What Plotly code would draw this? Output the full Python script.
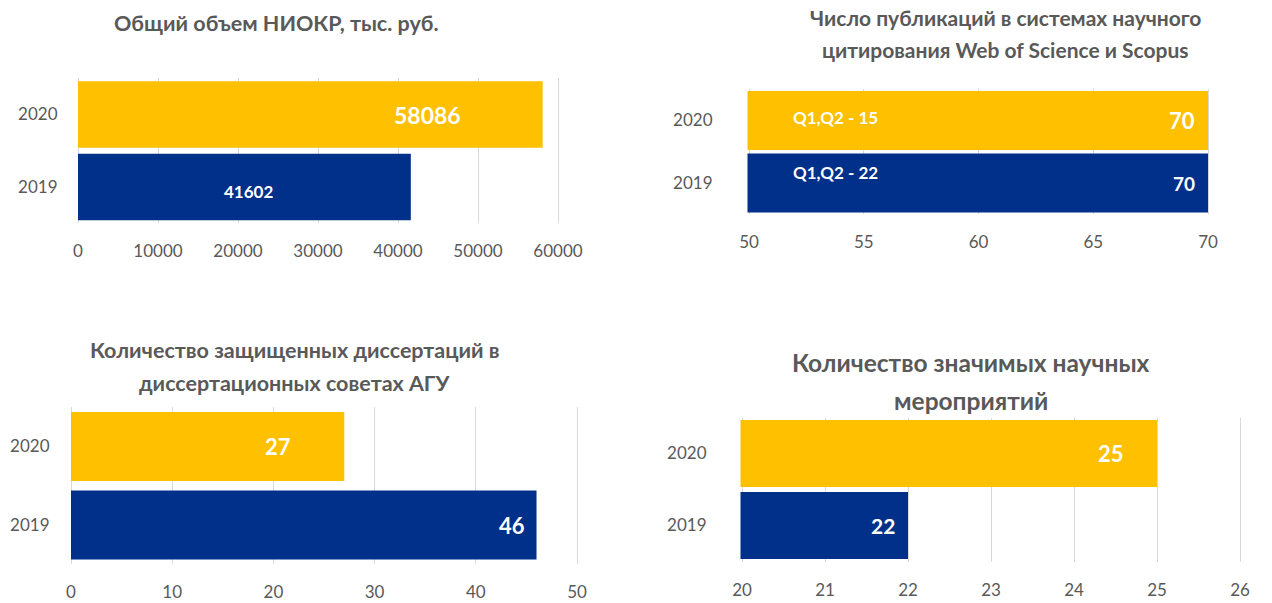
import plotly.graph_objects as go

# ---------------- data ----------------
years = ["2020", "2019"]
cat_order = ["2019", "2020"]
niokr = [58086, 41602]
pubs = [70, 70]
pubs_q = ["Q1,Q2 - 15", "Q1,Q2 - 22"]
diss = [27, 46]
events = [25, 22]

titles = [
    ["Общий объем НИОКР, тыс. руб."],
    ["Число публикаций в системах научного", "цитирования Web of Science и Scopus"],
    ["Количество защищенных диссертаций в", "диссертационных советах АГУ"],
    ["Количество значимых научных", "мероприятий"],
]

# ---------------- style ----------------
W, H = 1272, 603
OFF = 8  # page body margin offset
YELLOW = "#FFC000"
NAVY = "#00308A"
GRAY = "#595959"
GRID = "#D9D9D9"
FONT = "Lato"
bar_colors = [YELLOW, NAVY]


def fx(px):
    return (px - OFF) / W


def fy(py):
    return 1 - (py - OFF) / H


def cat_idx(year):
    return cat_order.index(year)


fig = go.Figure()

# (values, axis suffix, x px domain, y px domain, range, dtick, bar width, y-label standoff)
panels = [
    (niokr, "", (78, 558), (78.25, 223.25), [0, 60000], 10000, 0.92, 18),
    (pubs, "2", (749, 1208), (89.25, 214.25), [50, 70], 5, 0.944, 34),
    (diss, "3", (71, 577), (407.25, 564.25), [0, 50], 10, 0.88, 19),
    (events, "4", (742, 1240), (417.5, 561.5), [20, 26], 1, 0.93, 33),
]

layout = dict(
    width=W,
    height=H,
    autosize=False,
    margin=dict(l=0, r=0, t=0, b=0, pad=0, autoexpand=False),
    paper_bgcolor="white",
    plot_bgcolor="white",
    showlegend=False,
    font=dict(family=FONT, color=GRAY, size=17),
)

for vals, s, xd, yd, rng, dt, bw, ystand in panels:
    fig.add_trace(
        go.Bar(
            x=vals,
            y=years,
            orientation="h",
            marker=dict(color=bar_colors, line=dict(width=0)),
            width=bw,
            xaxis="x" + s,
            yaxis="y" + s,
            hoverinfo="skip",
        )
    )
    ppu = (xd[1] - xd[0]) / (rng[1] - rng[0])
    pad = 1.5 / ppu
    layout["xaxis" + s] = dict(
        domain=[fx(xd[0] - 1.5), fx(xd[1] + 1.5)],
        range=[rng[0] - pad, rng[1] + pad],
        autorange=False,
        tickmode="linear",
        dtick=dt,
        tick0=0,
        tickformat="d",
        showgrid=True,
        gridcolor=GRID,
        gridwidth=1,
        zeroline=False,
        showline=False,
        ticks="",
        ticklabelstandoff=16,
        automargin=False,
        tickfont=dict(family=FONT, size=17, color=GRAY),
        anchor="y" + s,
        fixedrange=True,
    )
    layout["yaxis" + s] = dict(
        domain=[fy(yd[1]), fy(yd[0])],
        type="category",
        categoryorder="array",
        categoryarray=cat_order,
        range=[-0.5, 1.5],
        autorange=False,
        showgrid=False,
        zeroline=False,
        showline=False,
        ticks="",
        ticklabelstandoff=ystand,
        automargin=False,
        tickfont=dict(family=FONT, size=17, color=GRAY),
        anchor="x" + s,
        fixedrange=True,
    )

fig.update_layout(**layout)

annotations = []

# titles: (center x, [line y...], font size)
title_pos = [
    (276, [23], 21.5),
    (1005, [17, 49], 21),
    (295, [350, 383], 21.5),
    (971, [362, 400], 24.5),
]
for lines, (cx, ys, fs) in zip(titles, title_pos):
    for line, cy in zip(lines, ys):
        annotations.append(
            dict(
                text="<b>" + line + "</b>",
                x=fx(cx),
                y=fy(cy),
                xref="paper",
                yref="paper",
                xanchor="center",
                yanchor="middle",
                showarrow=False,
                align="center",
                font=dict(family=FONT, size=fs, color=GRAY),
            )
        )


def value_label(val, year, s, xshift, yshift, size):
    annotations.append(
        dict(
            text="<b>%d</b>" % val,
            x=val,
            y=cat_idx(year),
            xref="x" + s,
            yref="y" + s,
            xanchor="right",
            yanchor="middle",
            xshift=xshift,
            yshift=yshift,
            showarrow=False,
            font=dict(family=FONT, size=size, color="white"),
        )
    )


# panel 1
value_label(niokr[0], years[0], "", -80, 0, 23)
value_label(niokr[1], years[1], "", -136, -4, 17)
# panel 2
value_label(pubs[0], years[0], "2", -11, 0, 22)
value_label(pubs[1], years[1], "2", -11, 0, 19)
for q, yr, ys in zip(pubs_q, years, [3, 11]):
    annotations.append(
        dict(
            text="<b>" + q + "</b>",
            x=0,
            y=cat_idx(yr),
            xref="x2 domain",
            yref="y2",
            xanchor="left",
            yanchor="middle",
            xshift=43,
            yshift=ys,
            showarrow=False,
            font=dict(family=FONT, size=17, color="white"),
        )
    )
# panel 3
value_label(diss[0], years[0], "3", -51, 0, 22)
value_label(diss[1], years[1], "3", -10, 0, 22)
# panel 4
value_label(events[0], years[0], "4", -31, 0, 22)
value_label(events[1], years[1], "4", -11, 0, 21)

fig.update_layout(annotations=annotations)

fig.write_html("out.html", config={"responsive": False})
